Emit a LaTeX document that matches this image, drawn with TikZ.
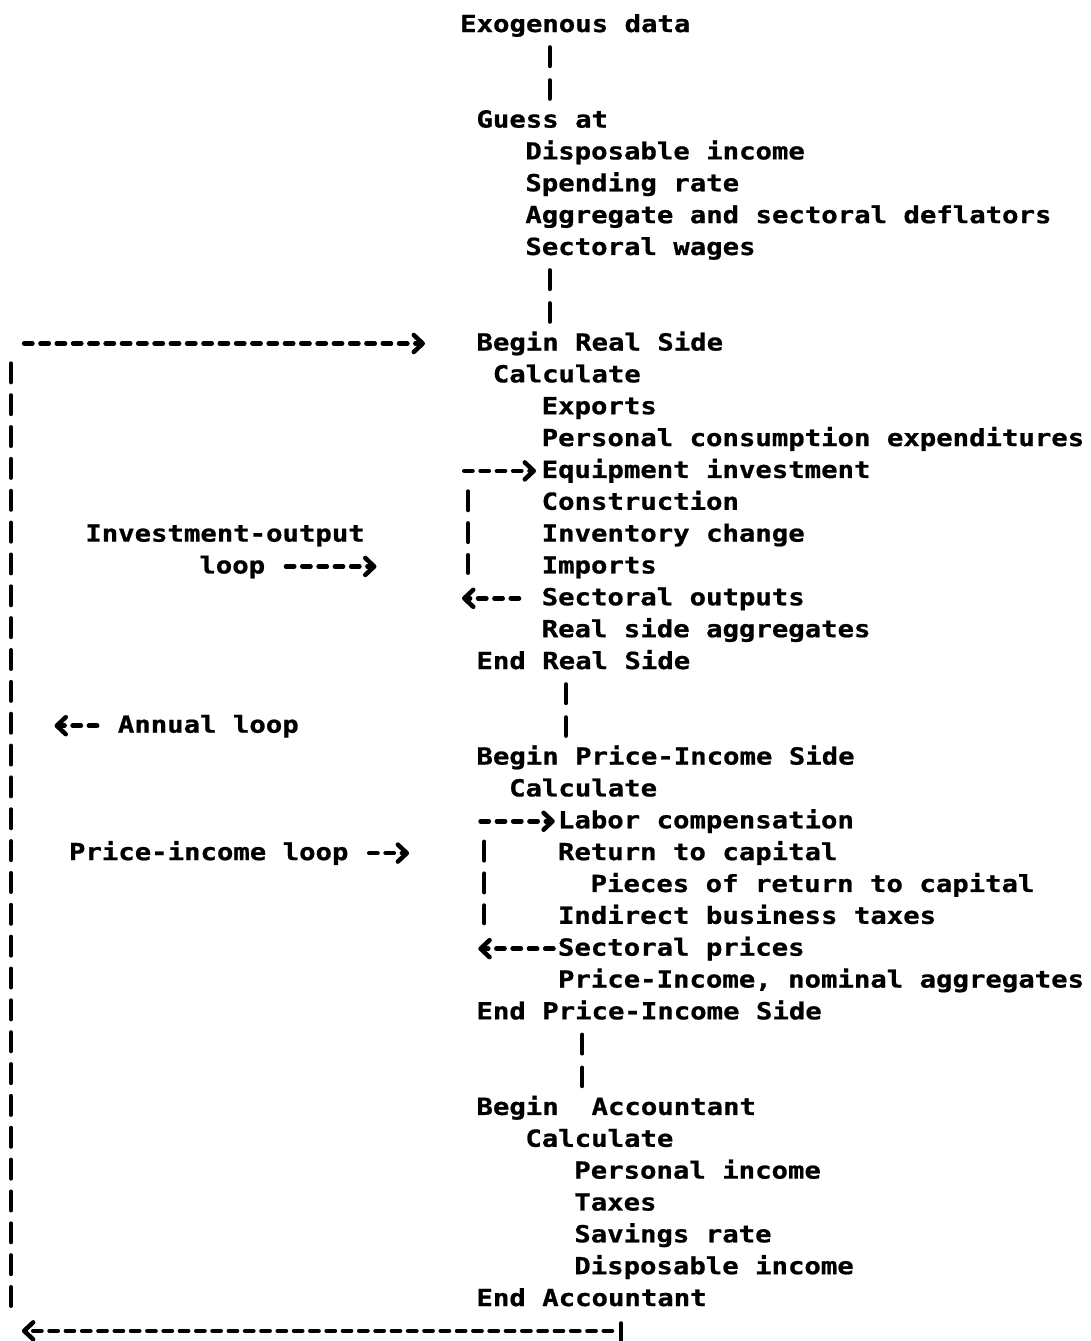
\documentclass[tikz,border=0pt]{standalone}
\usepackage{fontspec}
\newfontfamily\monob[FakeStretch=1.162,FakeBold=0.8]{DejaVu Sans Mono Bold}
\usetikzlibrary{arrows.meta,calc}
\newcommand\colx[1]{(460+16.3*(#1))}
\newcommand\rowb[1]{(32+31.85*(#1))}
\newcommand\rowm[1]{(25+31.85*(#1))}
\newcommand\rowc[1]{(22.5+31.85*(#1))}
\begin{document}
\frenchspacing
\begin{tikzpicture}[x=1pt,y=-1pt,
  txt/.style={anchor=base west, inner sep=0pt, text height=17pt, text depth=3pt,
    font=\monob\fontsize{23.5pt}{28pt}\selectfont},
  hdash/.style={line width=4.5pt, line cap=round, dash pattern=on 8.3pt off 8pt},
  vpair/.style={line width=4pt, line cap=round, dash pattern=on 19pt off 14pt,
    shorten <=12pt, shorten >=11.5pt},
  vbar/.style={line width=4pt, line cap=round, dash pattern=on 19pt off 12.85pt},
  arr/.style={-{Straight Barb[length=9pt,width=17pt,round]}},
]
\fill[white] (0,0) rectangle (1090,1341);
\useasboundingbox (0,0) rectangle (1090,1341);

% main column
\node[txt] (exo)   at ({\colx{0}},{\rowb{0}})  {Exogenous data};
\node[txt] (guess) at ({\colx{1}},{\rowb{3}})  {Guess at};
\node[txt] (g1)    at ({\colx{4}},{\rowb{4}})  {Disposable income};
\node[txt] (g2)    at ({\colx{4}},{\rowb{5}})  {Spending rate};
\node[txt] (g3)    at ({\colx{4}},{\rowb{6}})  {Aggregate and sectoral deflators};
\node[txt] (g4)    at ({\colx{4}},{\rowb{7}})  {Sectoral wages};
\node[txt] (brs)   at ({\colx{1}},{\rowb{10}}) {Begin Real Side};
\node[txt] (rcalc) at ({\colx{2}},{\rowb{11}}) {Calculate};
\node[txt] (r1)    at ({\colx{5}},{\rowb{12}}) {Exports};
\node[txt] (r2)    at ({\colx{5}},{\rowb{13}}) {Personal consumption expenditures};
\node[txt] (r3)    at ({\colx{5}},{\rowb{14}}) {Equipment investment};
\node[txt] (r4)    at ({\colx{5}},{\rowb{15}}) {Construction};
\node[txt] (r5)    at ({\colx{5}},{\rowb{16}}) {Inventory change};
\node[txt] (r6)    at ({\colx{5}},{\rowb{17}}) {Imports};
\node[txt] (r7)    at ({\colx{5}},{\rowb{18}}) {Sectoral outputs};
\node[txt] (r8)    at ({\colx{5}},{\rowb{19}}) {Real side aggregates};
\node[txt] (ers)   at ({\colx{1}},{\rowb{20}}) {End Real Side};
\node[txt] (bps)   at ({\colx{1}},{\rowb{23}}) {Begin Price-Income Side};
\node[txt] (pcalc) at ({\colx{3}},{\rowb{24}}) {Calculate};
\node[txt] (p1)    at ({\colx{6}},{\rowb{25}}) {Labor compensation};
\node[txt] (p2)    at ({\colx{6}},{\rowb{26}}) {Return to capital};
\node[txt] (p3)    at ({\colx{8}},{\rowb{27}}) {Pieces of return to capital};
\node[txt] (p4)    at ({\colx{6}},{\rowb{28}}) {Indirect business taxes};
\node[txt] (p5)    at ({\colx{6}},{\rowb{29}}) {Sectoral prices};
\node[txt] (p6)    at ({\colx{6}},{\rowb{30}}) {Price-Income, nominal aggregates};
\node[txt] (eps)   at ({\colx{1}},{\rowb{31}}) {End Price-Income Side};
\node[txt] (ba)    at ({\colx{1}},{\rowb{34}}) {Begin~~Accountant};
\node[txt] (acalc) at ({\colx{4}},{\rowb{35}}) {Calculate};
\node[txt] (a1)    at ({\colx{7}},{\rowb{36}}) {Personal income};
\node[txt] (a2)    at ({\colx{7}},{\rowb{37}}) {Taxes};
\node[txt] (a3)    at ({\colx{7}},{\rowb{38}}) {Savings rate};
\node[txt] (a4)    at ({\colx{7}},{\rowb{39}}) {Disposable income};
\node[txt] (ea)    at ({\colx{1}},{\rowb{40}}) {End Accountant};

% left labels
\node[txt] (lio1) at ({\colx{-23}},{\rowb{16}}) {Investment-output};
\node[txt] (lio2) at ({\colx{-16}},{\rowb{17}}) {loop};
\node[txt] (lann) at ({\colx{-21}},{\rowb{22}}) {Annual loop};
\node[txt] (lpi)  at ({\colx{-24}},{\rowb{26}}) {Price-income loop};

% vertical pairs in the main column
\coordinate (k5) at ({\colx{5.5}},0);
\coordinate (k6) at ({\colx{6.5}},0);
\coordinate (k7) at ({\colx{7.5}},0);
\draw[vpair] (exo.south -| k5) -- (guess.north -| k5);
\draw[vpair] (g4.south -| k5) -- (brs.north -| k5);
\draw[vpair] (ers.south -| k6) -- (bps.north -| k6);
\draw[vpair] (eps.south -| k7) -- (ba.north -| k7);

% investment-output loop
\coordinate (rl0) at ({\colx{0}+4.25},{\rowm{14}});
\draw[hdash, arr, shorten >=5.5pt] (rl0) -- (r3.west);
\coordinate (rl1) at ({\colx{0.5}},{\rowc{15}-9});
\coordinate (rl2) at ({\colx{0.5}},{\rowc{17}+9});
\draw[vbar] (rl1) -- (rl2);
\coordinate (rl3) at ({\colx{0}+2},{\rowm{18}});
\draw[hdash, arr, shorten <=22.5pt] (r7.west) -- (rl3);

% price-income loop
\coordinate (pl0) at ({\colx{1}+4.25},{\rowm{25}});
\draw[hdash, arr, shorten >=3pt] (pl0) -- (p1.west);
\coordinate (pl1) at ({\colx{1.5}},{\rowc{26}-9});
\coordinate (pl2) at ({\colx{1.5}},{\rowc{28}+9});
\draw[vbar] (pl1) -- (pl2);
\coordinate (pl3) at ({\colx{1}+2},{\rowm{29}});
\draw[hdash, arr, shorten <=4.3pt] (p5.west) -- (pl3);

% label arrows
\coordinate (tio) at ({\colx{-5}-2},{\rowm{17}});
\draw[hdash, arr, shorten <=20.6pt] (lio2.east) -- (tio);
\coordinate (tann) at ({\colx{-25}+2},{\rowm{22}});
\draw[hdash, arr, shorten <=20.5pt] (lann.west) -- (tann);
\coordinate (tpi) at ({\colx{-3}-2},{\rowm{26}});
\draw[hdash, arr, shorten <=20.55pt] (lpi.east) -- (tpi);

% annual loop
\coordinate (lt) at ({\colx{-27}+4.25},{\rowm{10}});
\draw[hdash, arr, shorten >=51.3pt] (lt) -- (brs.west);
\coordinate (lvt) at (11,{\rowc{11}-9.5});
\coordinate (lvb) at (11,{\rowc{40}+9.5});
\draw[vbar] (lvt) -- (lvb);
\coordinate (cB) at (621,0);
\coordinate (cBb) at (621,1352);
\draw[line width=4pt, line cap=round, shorten <=14pt] (ea.south -| cB) -- (cBb);
\coordinate (bA) at (612,{\rowm{41}});
\coordinate (bZ) at ({\colx{-27}+2},{\rowm{41}});
\draw[hdash, arr] (bA) -- (bZ);
\end{tikzpicture}
\end{document}
